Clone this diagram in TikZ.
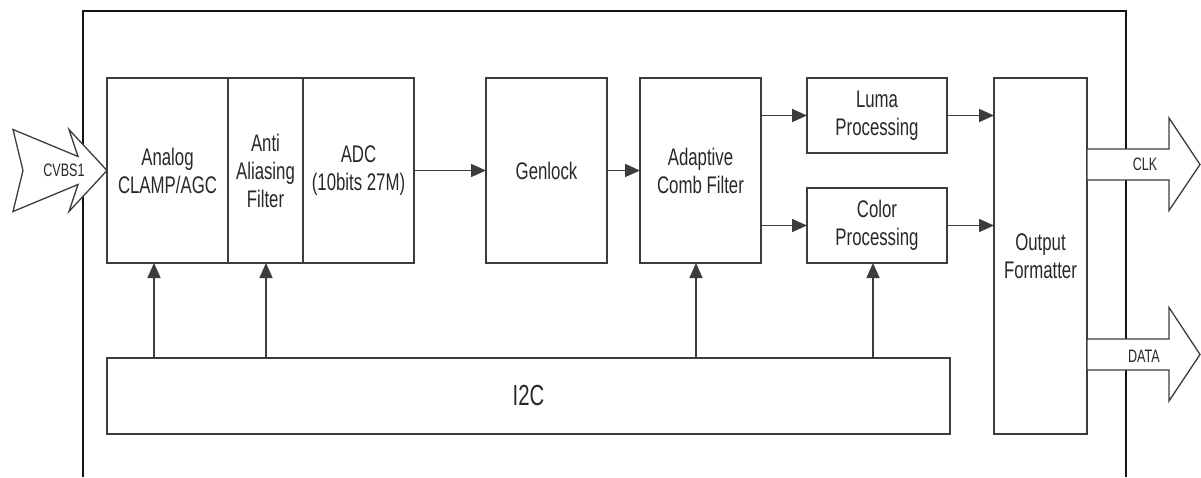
\documentclass[tikz,border=0pt]{standalone}
\usepackage{fontspec}
\setmainfont{Liberation Sans}[FakeStretch=0.70]
\usepackage{tikz}
\usetikzlibrary{arrows.meta, positioning, calc}
\definecolor{linegray}{RGB}{60, 60, 60}
\definecolor{textgray}{RGB}{40, 40, 40}
\definecolor{chipblack}{RGB}{20, 20, 20}

\begin{document}
\begin{tikzpicture}[
        x = 1pt, y = -1pt,
        block/.style = {draw, linegray, line width=1.6pt, rectangle, outer sep=0pt, minimum width=121pt, minimum height=185pt, inner sep=2pt, align=center, text=textgray, font=\fontsize{24}{28}\selectfont},
        arrow/.style = {line width=1.6pt, -{Triangle[length=15pt, width=13pt]}, linegray},
        bus/.style = {draw=linegray, line width=1.3pt, fill=white, line join=miter},
        buslabel/.style = {text=textgray, inner sep=0pt, font=\fontsize{18}{20}\selectfont}
    ]
        \useasboundingbox (0,0) rectangle (1201,477);

        % Chip outline
        \draw [chipblack, line width=1.9pt] (83,477) -- (83,11) -- (1126,11) -- (1126,477);

        % Nodes
        \node [block] (analog) at (167.5,170.5) {Analog\\CLAMP/AGC};
        \node [block, minimum width=75pt, right=0pt of analog] (anti) {Anti\\Aliasing\\Filter};
        \node [block, minimum width=111pt, right=0pt of anti] (adc) {ADC\\(10bits 27M)};
        \node [block, right=72pt of adc] (genlock) {Genlock};
        \node [block, right=33pt of genlock] (comb) {Adaptive\\Comb Filter};
        \node [block, minimum width=140pt, minimum height=75pt, anchor=north west] (luma) at ([xshift=46pt]comb.north east) {Luma\\Processing};
        \node [block, minimum width=140pt, minimum height=75pt, anchor=south west] (color) at ([xshift=46pt]comb.south east) {Color\\Processing};
        \node [block, minimum width=93pt, minimum height=356pt, anchor=north west] (outfmt) at ([xshift=233pt]comb.north east) {Output\\Formatter};
        \node [block, minimum width=843pt, minimum height=76pt, anchor=south west, font=\fontsize{29}{32}\selectfont] (i2c) at (analog.west |- outfmt.south) {I2C};

        % Buses in and out
        \draw [bus] (analog.west) -- ++(-38,41) -- ++(9,-27) -- ++(-65,27) -- ++(10,-41) -- ++(-10,-41) -- ++(65,27) -- ++(-9,-27) -- cycle;
        \node [buslabel] (cvbslabel) at ($(analog.west)+(-43,0)$) {CVBS1};

        \coordinate (clk) at (outfmt.east |- 0,164.5);
        \draw [bus] ($(clk)+(0,-15.5)$) -- ++(82,0) -- ++(0,-31) -- ($(clk)+(113,0)$) -- ++(-31,46) -- ++(0,-30.5) -- ++(-82,0) -- cycle;
        \node [buslabel] (clklabel) at ($(clk)+(58,0)$) {CLK};

        \coordinate (data) at (outfmt.east |- 0,354.5);
        \draw [bus] ($(data)+(0,-15.5)$) -- ++(82,0) -- ++(0,-31.5) -- ($(data)+(113,0)$) -- ++(-31,46.5) -- ++(0,-31) -- ++(-82,0) -- cycle;
        \node [buslabel] (datalabel) at ($(data)+(57,2)$) {DATA};

        % Connections
        \draw [arrow] (adc) -- (genlock);
        \draw [arrow] (genlock) -- (comb);
        \draw [arrow] (comb.east |- luma.west) -- (luma.west);
        \draw [arrow] (comb.east |- color.west) -- (color.west);
        \draw [arrow] (luma.east) -- (luma.east -| outfmt.west);
        \draw [arrow] (color.east) -- (color.east -| outfmt.west);

        \draw [arrow] ([xshift=-13.5pt]analog.south |- i2c.north) -- ([xshift=-13.5pt]analog.south);
        \draw [arrow] ([xshift=0.5pt]anti.south |- i2c.north) -- ([xshift=0.5pt]anti.south);
        \draw [arrow] ([xshift=-4.5pt]comb.south |- i2c.north) -- ([xshift=-4.5pt]comb.south);
        \draw [arrow] ([xshift=-4pt]color.south |- i2c.north) -- ([xshift=-4pt]color.south);
    \end{tikzpicture}
\end{document}
